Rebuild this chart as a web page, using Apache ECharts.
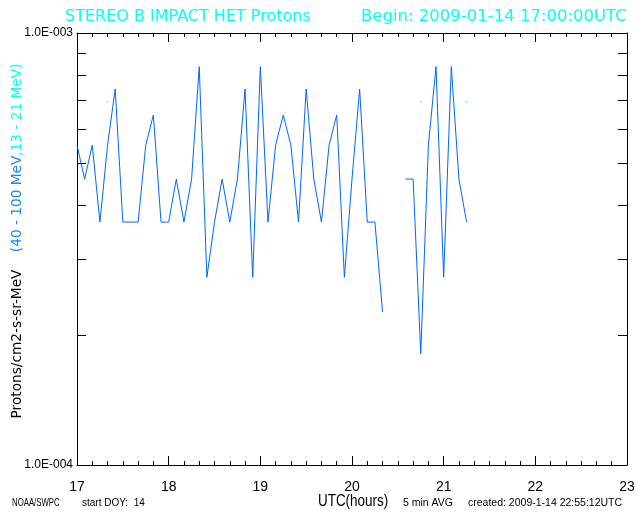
<!DOCTYPE html>
<html>
<head>
<meta charset="utf-8">
<script src="https://cdn.jsdelivr.net/npm/echarts@6/dist/echarts.min.js"></script>
<style>
html,body{margin:0;padding:0;background:#fff;}
#chart{width:640px;height:512px;}
</style>
</head>
<body>
<div id="chart"></div>
<script>
// 5-minute sample times (UTC)
var times = ['17:00','17:05','17:10','17:15','17:20','17:25','17:30','17:35','17:40','17:45','17:50','17:55',
             '18:00','18:05','18:10','18:15','18:20','18:25','18:30','18:35','18:40','18:45','18:50','18:55',
             '19:00','19:05','19:10','19:15','19:20','19:25','19:30','19:35','19:40','19:45','19:50','19:55',
             '20:00','20:05','20:10','20:15','20:20','20:25','20:30','20:35','20:40','20:45','20:50','20:55',
             '21:00','21:05','21:10','21:15'];
// 40 - 100 MeV protons
var p40_100 = [5.50e-4, 4.59e-4, 5.50e-4, 3.65e-4, 5.50e-4, 7.42e-4, 3.65e-4, 3.65e-4, 3.65e-4, 5.50e-4, 6.46e-4, 3.65e-4,
               3.65e-4, 4.59e-4, 3.65e-4, 4.59e-4, 8.36e-4, 2.72e-4, 3.65e-4, 4.59e-4, 3.65e-4, 4.59e-4, 7.42e-4, 2.72e-4,
               8.36e-4, 3.65e-4, 5.50e-4, 6.46e-4, 5.50e-4, 3.65e-4, 7.42e-4, 4.59e-4, 3.65e-4, 5.50e-4, 6.46e-4, 2.72e-4,
               4.59e-4, 7.42e-4, 3.65e-4, 3.65e-4, 2.26e-4, null, null, 4.59e-4, 4.59e-4, 1.81e-4, 5.50e-4, 8.36e-4,
               2.72e-4, 8.36e-4, 4.59e-4, 3.65e-4];
// 13 - 21 MeV protons (only isolated samples visible)
var p13_21 = [null, null, null, null, 6.93e-4, null, null, null, null, null, null, null,
              null, null, null, null, null, null, null, null, null, null, null, null,
              null, null, null, null, null, null, null, null, null, null, null, null,
              null, null, null, null, null, null, null, null, null, 6.93e-4, null, null,
              null, null, null, 6.93e-4];
var xTickLabels = ['17','18','19','20','21','22','23'];
var yMinorTicks = [2e-4, 3e-4, 4e-4, 5e-4, 6e-4, 7e-4, 8e-4, 9e-4];
var xMin = 17, xMax = 23, yMin = 1e-4, yMax = 1e-3;

function toHours(t){ var p = t.split(':'); return +p[0] + (+p[1]) / 60; }

var lineData = times.map(function(t, i){ return [toHours(t), p40_100[i] == null ? '-' : p40_100[i]]; });
var cyanData = [];
times.forEach(function(t, i){ if (p13_21[i] != null) cyanData.push([toHours(t), p13_21[i]]); });

var BLUE = '#0066ff', CYAN = '#00ffff', LBLUE = '#1a84ff';
var SANS = "'Liberation Sans',sans-serif";
var DV = "'DejaVu Sans',sans-serif";

function xAxisDef(pos, showLabel){
  return {
    type: 'value', position: pos, min: xMin, max: xMax, interval: 1,
    axisLine: {show: true, onZero: false, lineStyle: {color: '#000', width: 1}},
    axisTick: {show: true, inside: true, length: 9, lineStyle: {color: '#000'}},
    minorTick: {show: true, splitNumber: 6, length: 4, lineStyle: {color: '#000'}},
    splitLine: {show: false}, minorSplitLine: {show: false},
    axisLabel: {show: showLabel, margin: 15, color: '#000', fontFamily: SANS, fontSize: 14,
      formatter: function(v){ var i = Math.round(v - xMin); return xTickLabels[i] || ''; }}
  };
}
function yAxisDef(pos, showLabel){
  return {
    type: 'log', logBase: 10, position: pos, min: yMin, max: yMax,
    axisLine: {show: true, onZero: false, lineStyle: {color: '#000', width: 1}},
    axisTick: {show: false}, splitLine: {show: false},
    axisLabel: {show: showLabel, margin: 4, color: '#000', fontFamily: SANS, fontSize: 12,
      formatter: function(v){ var e = Math.round(Math.log10(v)); return '1.0E-' + String(-e).padStart(3, '0'); }}
  };
}

var chart = echarts.init(document.getElementById('chart'), null, {renderer: 'canvas'});
chart.setOption({
  animation: false,
  backgroundColor: '#fff',
  grid: {left: 77, right: 13, top: 33, bottom: 47, containLabel: false},
  xAxis: [xAxisDef('bottom', true), xAxisDef('top', false)],
  yAxis: [yAxisDef('left', true), yAxisDef('right', false)],
  graphic: [
    {type: 'text', x: 65, y: 17, style: {text: 'STEREO B IMPACT HET Protons', fill: CYAN, font: "16px " + DV, verticalAlign: 'middle'}},
    {type: 'text', x: 361, y: 17, style: {text: 'Begin: 2009-01-14 17:00:00UTC', fill: CYAN, font: "16.5px " + DV, verticalAlign: 'middle'}},
    {type: 'text', x: 17, y: 241, rotation: Math.PI / 2, style: {
      text: '{a|Protons/cm2-s-sr-MeV}{a|    }{b|(40 - 100 MeV}{c|,13 - 21 MeV)}',
      align: 'center', verticalAlign: 'middle',
      rich: {
        a: {fill: '#000', font: "13.7px " + DV},
        b: {fill: LBLUE, font: "13.7px " + DV},
        c: {fill: CYAN, font: "13.7px " + DV}
      }}},
    {type: 'text', x: 12, y: 503, scaleX: 0.78, style: {text: 'NOAA/SWPC', fill: '#000', font: "10px " + SANS, verticalAlign: 'middle'}},
    {type: 'text', x: 82, y: 503, style: {text: 'start DOY:  14', fill: '#000', font: "10px " + SANS, verticalAlign: 'middle'}},
    {type: 'text', x: 318, y: 502, scaleX: 0.84, style: {text: 'UTC(hours)', fill: '#000', font: "16px " + SANS, verticalAlign: 'middle'}},
    {type: 'text', x: 403, y: 503, style: {text: '5 min AVG', fill: '#000', font: "10.5px " + SANS, verticalAlign: 'middle'}},
    {type: 'text', x: 468, y: 503, style: {text: 'created: 2009-1-14 22:55:12UTC', fill: '#000', font: "10.5px " + SANS, verticalAlign: 'middle'}}
  ],
  series: [
    {
      type: 'custom', xAxisIndex: 0, yAxisIndex: 0, silent: true, clip: false, z: 1,
      data: yMinorTicks.map(function(v){ return [xMin, v]; }),
      renderItem: function(params, api){
        var v = api.value(1);
        var l = api.coord([xMin, v]);
        var r = api.coord([xMax, v]);
        var y = Math.round(l[1]) + 0.5;
        return {type: 'group', children: [
          {type: 'line', shape: {x1: l[0], y1: y, x2: l[0] + 9, y2: y}, style: {stroke: '#000', lineWidth: 1}},
          {type: 'line', shape: {x1: r[0], y1: y, x2: r[0] - 9, y2: y}, style: {stroke: '#000', lineWidth: 1}}
        ]};
      }
    },
    {
      name: '40 - 100 MeV', type: 'line', xAxisIndex: 0, yAxisIndex: 0, z: 3,
      data: lineData, showSymbol: false, connectNulls: false,
      lineStyle: {color: BLUE, width: 1}, itemStyle: {color: BLUE}
    },
    {
      name: '13 - 21 MeV', type: 'scatter', xAxisIndex: 0, yAxisIndex: 0, z: 4,
      data: cyanData, symbol: 'rect', symbolSize: 1.5, itemStyle: {color: CYAN}
    }
  ]
});
</script>
</body>
</html>
